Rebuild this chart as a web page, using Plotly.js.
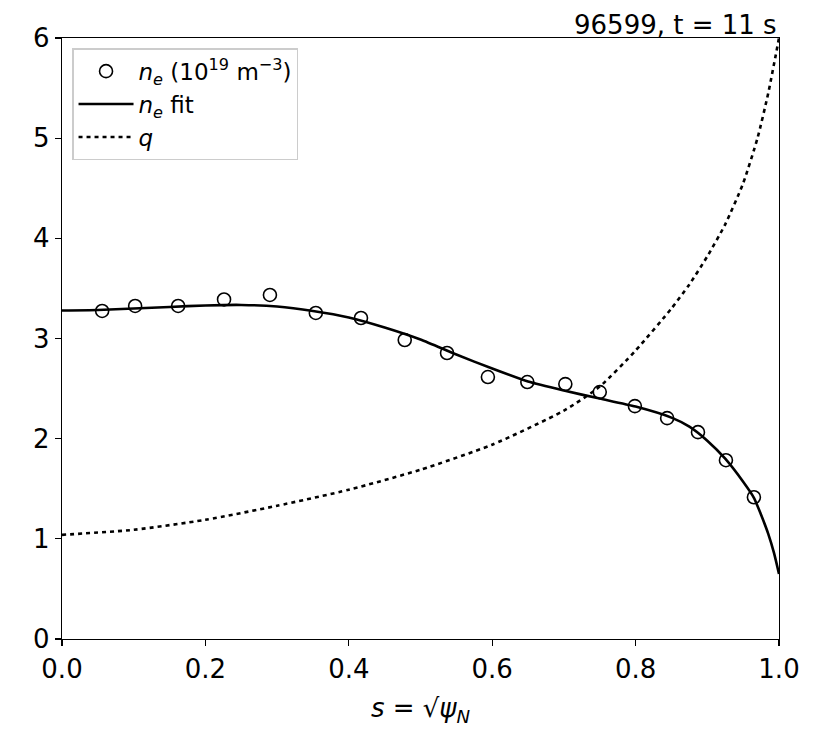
<!DOCTYPE html>
<html>
<head>
<meta charset="utf-8">
<script src="https://cdn.plot.ly/plotly-3.0.1.min.js"></script>
<style>html,body{margin:0;padding:0;background:#fff;}</style>
</head>
<body>
<div id="chart" style="width:830px;height:755px;"></div>
<script>
// measured density points
const sData = [0.056,0.102,0.162,0.226,0.290,0.354,0.417,0.478,0.537,0.594,0.649,0.702,0.750,0.799,0.844,0.887,0.926,0.965];
const neData = [3.275,3.325,3.325,3.39,3.435,3.255,3.205,2.985,2.855,2.615,2.565,2.545,2.465,2.325,2.205,2.065,1.785,1.415];

// density fit curve
const sFit = [0,0.05,0.1,0.15,0.2,0.25,0.3,0.35,0.4,0.45,0.5,0.55,0.6,0.65,0.7,0.75,0.8,0.85,0.875,0.9,0.925,0.95,0.965,0.975,0.985,0.993,1.0];
const neFit = [3.28,3.285,3.30,3.315,3.33,3.335,3.32,3.275,3.21,3.11,2.99,2.84,2.70,2.57,2.48,2.40,2.32,2.21,2.12,1.98,1.80,1.57,1.41,1.24,1.05,0.86,0.65];

// safety factor q
const sQ = [0,0.1,0.2,0.3,0.4,0.5,0.6,0.7,0.75,0.8,0.85,0.875,0.9,0.925,0.95,0.97,0.985,1.0];
const qVals = [1.04,1.09,1.19,1.33,1.49,1.69,1.94,2.28,2.52,2.88,3.30,3.54,3.82,4.14,4.55,5.0,5.45,6.0];

const xTicks = [0,0.2,0.4,0.6,0.8,1.0];
const xTickText = ['0.0','0.2','0.4','0.6','0.8','1.0'];
const yTicks = [0,1,2,3,4,5,6];

const titleText = '96599, t = 11 s';

const font = 'DejaVu Sans, sans-serif';

const traces = [
  {
    x: sData, y: neData, type: 'scatter', mode: 'markers',
    name: '<i>n</i><sub><i>e</i></sub> (10<sup>19</sup> m<sup>−3</sup>)',
    marker: {symbol: 'circle-open', size: 13, color: '#000', line: {width: 1.6, color: '#000'}}
  },
  {
    x: sFit, y: neFit, type: 'scatter', mode: 'lines',
    name: '<i>n</i><sub><i>e</i></sub> fit',
    line: {color: '#000', width: 2.6, shape: 'spline', smoothing: 0.6}
  },
  {
    x: sQ, y: qVals, type: 'scatter', mode: 'lines',
    name: '<i>q</i>',
    line: {color: '#000', width: 2.6, dash: '4px,4px', shape: 'spline', smoothing: 0.6}
  }
];

const layout = {
  width: 830, height: 755,
  margin: {l: 62, r: 51, t: 38, b: 116},
  paper_bgcolor: '#fff', plot_bgcolor: '#fff',
  font: {family: font, color: '#000', size: 26},
  showlegend: true,
  legend: {
    x: 0.014, y: 0.983, xanchor: 'left', yanchor: 'top',
    bgcolor: 'rgba(255,255,255,0.9)', bordercolor: '#cccccc', borderwidth: 1.5,
    font: {family: font, size: 23, color: '#000'},
    itemwidth: 55,
    tracegroupgap: 0
  },
  xaxis: {
    range: [0, 1], tickvals: xTicks, ticktext: xTickText,
    showgrid: false, zeroline: false,
    showline: true, linecolor: '#000', linewidth: 1.3, mirror: true,
    ticks: 'outside', ticklen: 6, tickwidth: 1.3, tickcolor: '#000',
    tickfont: {family: font, size: 26, color: '#000'},
    title: {text: '<i>s</i> = √<i>ψ</i><sub><i>N</i></sub>', font: {family: font, size: 26, color: '#000'}, standoff: 16}
  },
  yaxis: {
    range: [0, 6], tickvals: yTicks,
    showgrid: false, zeroline: false,
    showline: true, linecolor: '#000', linewidth: 1.3, mirror: true,
    ticks: 'outside', ticklen: 6, tickwidth: 1.3, tickcolor: '#000',
    tickfont: {family: font, size: 26, color: '#000'}
  },
  annotations: [{
    text: titleText, xref: 'paper', yref: 'paper', x: 1, y: 1,
    xanchor: 'right', yanchor: 'bottom', showarrow: false, yshift: -4,
    font: {family: font, size: 26, color: '#000'}
  }]
};

Plotly.newPlot('chart', traces, layout, {displayModeBar: false, staticPlot: true});
</script>
</body>
</html>
